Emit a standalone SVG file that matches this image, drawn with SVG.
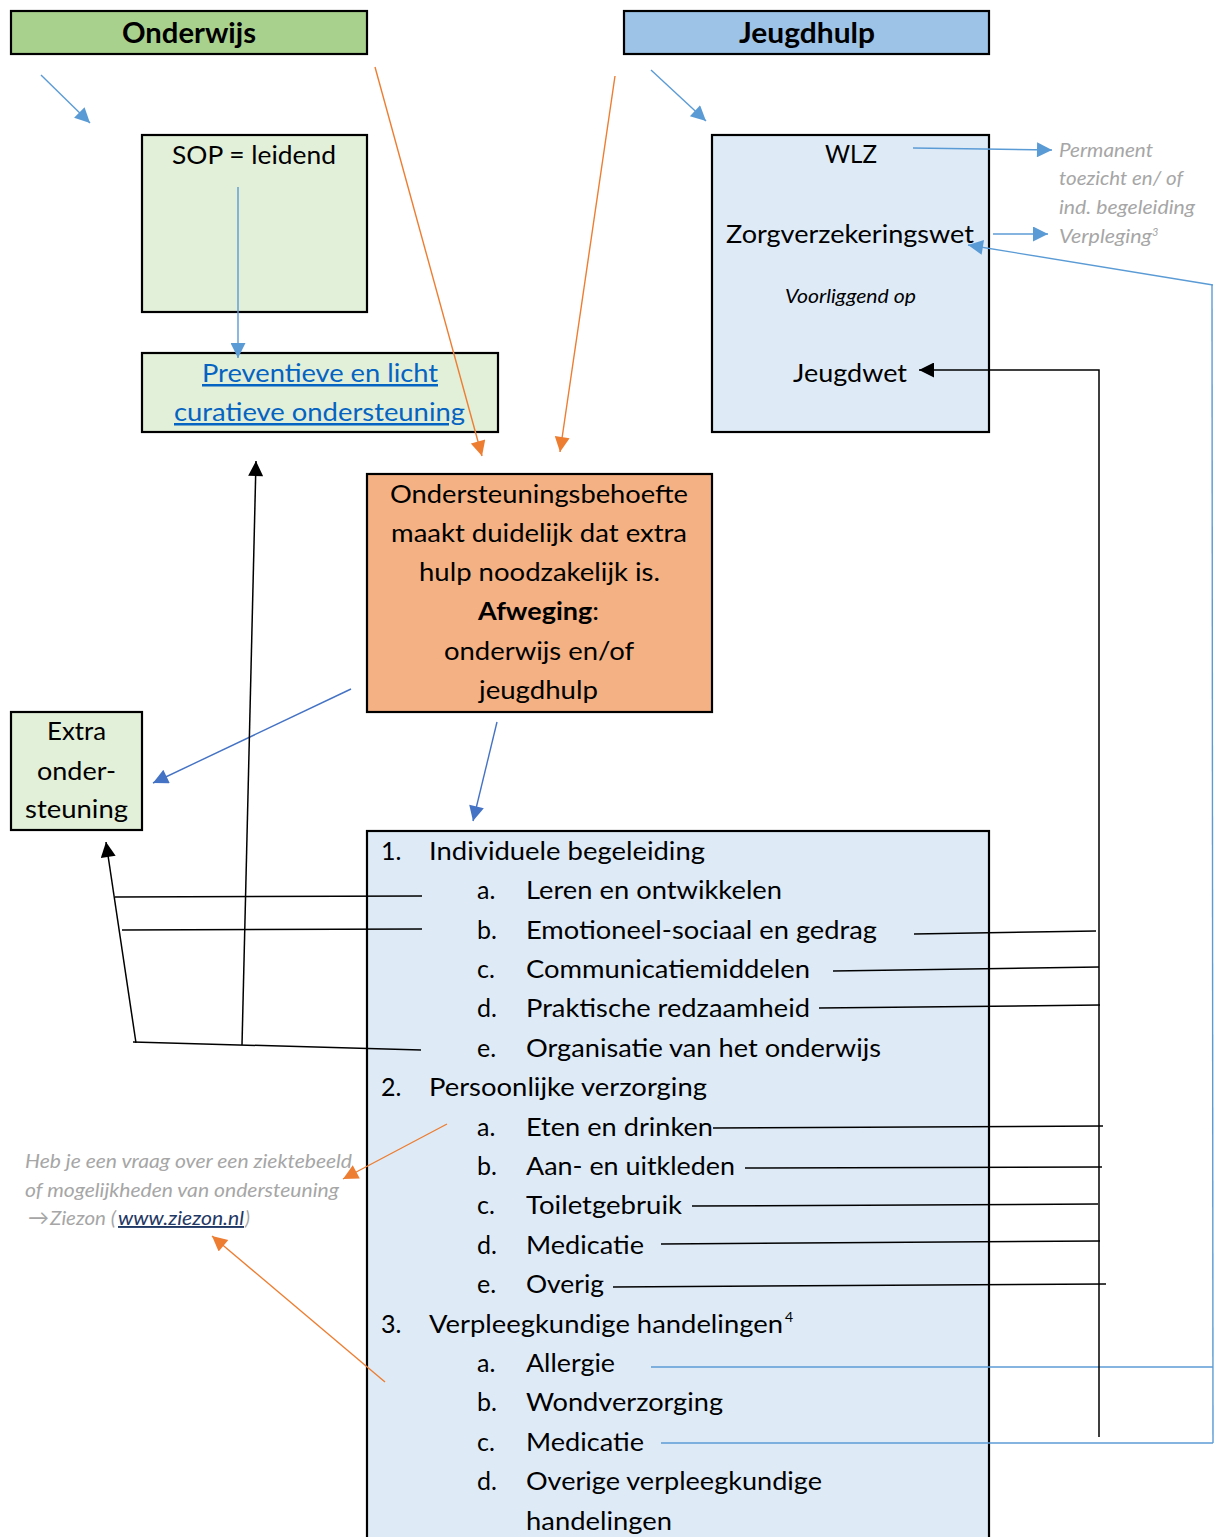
<svg xmlns="http://www.w3.org/2000/svg" width="1215" height="1537" viewBox="0 0 1215 1537">
<style>
.box{stroke:#000;stroke-width:2.2}
.t{font-family:Lato,"Open Sans","Liberation Sans",sans-serif;font-size:25px;fill:#000}
.h{font-family:Lato,"Open Sans","Liberation Sans",sans-serif;font-size:29px;font-weight:bold;fill:#000}
.i{font-family:Lato,"Open Sans","Liberation Sans",sans-serif;font-size:19px;font-style:italic;fill:#000}
.g{font-family:Lato,"Open Sans","Liberation Sans",sans-serif;font-size:19px;font-style:italic;fill:#a6a6a6}
.sup{font-size:13px}
.lnk{fill:#0563c1;text-decoration:underline}
.bl{stroke:#5b9bd5;stroke-width:1.4;fill:none}
.db{stroke:#4472c4;stroke-width:1.4;fill:none}
.or{stroke:#ed7d31;stroke-width:1.4;fill:none}
.k{stroke:#000;stroke-width:1.5;fill:none}
</style>
<defs>
<marker id="ab" viewBox="0 0 10 10" refX="10" refY="5" markerWidth="17" markerHeight="15" markerUnits="userSpaceOnUse" orient="auto"><path d="M0,0L10,5L0,10z" fill="#5b9bd5"/></marker>
<marker id="adb" viewBox="0 0 10 10" refX="10" refY="5" markerWidth="17" markerHeight="15" markerUnits="userSpaceOnUse" orient="auto"><path d="M0,0L10,5L0,10z" fill="#4472c4"/></marker>
<marker id="ao" viewBox="0 0 10 10" refX="10" refY="5" markerWidth="17" markerHeight="15" markerUnits="userSpaceOnUse" orient="auto"><path d="M0,0L10,5L0,10z" fill="#ed7d31"/></marker>
<marker id="ak" viewBox="0 0 10 10" refX="10" refY="5" markerWidth="17" markerHeight="15" markerUnits="userSpaceOnUse" orient="auto"><path d="M0,0L10,5L0,10z" fill="#000"/></marker>
</defs>
<rect width="1215" height="1537" fill="#fff"/>

<g id="onderwijs">
<rect class="box" x="11" y="11" width="356" height="43" fill="#a9d18e"/>
<text class="h" x="122" y="43" textLength="134" lengthAdjust="spacingAndGlyphs">Onderwijs</text>
</g>
<g id="jeugdhulp">
<rect class="box" x="624" y="11" width="365" height="43" fill="#9dc3e6"/>
<text class="h" x="739" y="43" textLength="136" lengthAdjust="spacingAndGlyphs">Jeugdhulp</text>
</g>
<g id="sop">
<rect class="box" x="142" y="135" width="225" height="177" fill="#e2efd9"/>
<text class="t" x="172" y="164" textLength="164" lengthAdjust="spacingAndGlyphs">SOP = leidend</text>
</g>
<g id="preventieve">
<rect class="box" x="142" y="353" width="356" height="79" fill="#e2efd9"/>
<text class="t lnk" x="202" y="382" textLength="236" lengthAdjust="spacingAndGlyphs">Preventieve en licht</text>
<text class="t lnk" x="174" y="421" textLength="291" lengthAdjust="spacingAndGlyphs">curatieve ondersteuning</text>
</g>
<g id="ondersteuningsbehoefte">
<rect class="box" x="367" y="474" width="345" height="238" fill="#f4b183"/>
<text class="t" x="390" y="503" textLength="298" lengthAdjust="spacingAndGlyphs">Ondersteuningsbehoefte</text>
<text class="t" x="391" y="542" textLength="296" lengthAdjust="spacingAndGlyphs">maakt duidelijk dat extra</text>
<text class="t" x="419" y="581" textLength="241" lengthAdjust="spacingAndGlyphs">hulp noodzakelijk is.</text>
<text class="t" x="478" y="620" textLength="121" lengthAdjust="spacingAndGlyphs"><tspan font-weight="bold">Afweging</tspan>:</text>
<text class="t" x="444" y="660" textLength="190" lengthAdjust="spacingAndGlyphs">onderwijs en/of</text>
<text class="t" x="479" y="699" textLength="119" lengthAdjust="spacingAndGlyphs">jeugdhulp</text>
</g>
<g id="wetten">
<rect class="box" x="712" y="135" width="277" height="297" fill="#deebf7"/>
<text class="t" x="825" y="163" textLength="52" lengthAdjust="spacingAndGlyphs">WLZ</text>
<text class="t" x="726" y="243" textLength="248" lengthAdjust="spacingAndGlyphs">Zorgverzekeringswet</text>
<text class="i" x="785" y="303" textLength="131" lengthAdjust="spacingAndGlyphs">Voorliggend op</text>
<text class="t" x="793" y="382" textLength="114" lengthAdjust="spacingAndGlyphs">Jeugdwet</text>
</g>
<g id="wlz-toelichting">
<text class="g" x="1059" y="157" textLength="94" lengthAdjust="spacingAndGlyphs">Permanent</text>
<text class="g" x="1059" y="185" textLength="124" lengthAdjust="spacingAndGlyphs">toezicht en/ of</text>
<text class="g" x="1059" y="214" textLength="136" lengthAdjust="spacingAndGlyphs">ind. begeleiding</text>
<text class="g" x="1059" y="243" textLength="93" lengthAdjust="spacingAndGlyphs">Verpleging</text>
<text class="g" x="1152" y="236" style="font-size:11px">3</text>
</g>
<g id="extra">
<rect class="box" x="11" y="712" width="131" height="118" fill="#e2efd9"/>
<text class="t" x="47" y="740" textLength="59" lengthAdjust="spacingAndGlyphs">Extra</text>
<text class="t" x="37" y="780" textLength="79" lengthAdjust="spacingAndGlyphs">onder-</text>
<text class="t" x="25" y="818" textLength="103" lengthAdjust="spacingAndGlyphs">steuning</text>
</g>
<g id="lijst">
<rect class="box" x="367" y="831" width="622" height="720" fill="#deebf7"/>
<text class="t" x="381" y="860">1.</text>
<text class="t" x="429" y="860" textLength="276" lengthAdjust="spacingAndGlyphs">Individuele begeleiding</text>
<text class="t" x="477" y="899">a.</text>
<text class="t" x="526" y="899" textLength="256" lengthAdjust="spacingAndGlyphs">Leren en ontwikkelen</text>
<text class="t" x="477" y="939">b.</text>
<text class="t" x="526" y="939" textLength="351" lengthAdjust="spacingAndGlyphs">Emotioneel-sociaal en gedrag</text>
<text class="t" x="477" y="978">c.</text>
<text class="t" x="526" y="978" textLength="284" lengthAdjust="spacingAndGlyphs">Communicatiemiddelen</text>
<text class="t" x="477" y="1017">d.</text>
<text class="t" x="526" y="1017" textLength="284" lengthAdjust="spacingAndGlyphs">Praktische redzaamheid</text>
<text class="t" x="477" y="1057">e.</text>
<text class="t" x="526" y="1057" textLength="355" lengthAdjust="spacingAndGlyphs">Organisatie van het onderwijs</text>
<text class="t" x="381" y="1096">2.</text>
<text class="t" x="429" y="1096" textLength="278" lengthAdjust="spacingAndGlyphs">Persoonlijke verzorging</text>
<text class="t" x="477" y="1136">a.</text>
<text class="t" x="526" y="1136" textLength="187" lengthAdjust="spacingAndGlyphs">Eten en drinken</text>
<text class="t" x="477" y="1175">b.</text>
<text class="t" x="526" y="1175" textLength="209" lengthAdjust="spacingAndGlyphs">Aan- en uitkleden</text>
<text class="t" x="477" y="1214">c.</text>
<text class="t" x="526" y="1214" textLength="156" lengthAdjust="spacingAndGlyphs">Toiletgebruik</text>
<text class="t" x="477" y="1254">d.</text>
<text class="t" x="526" y="1254" textLength="118" lengthAdjust="spacingAndGlyphs">Medicatie</text>
<text class="t" x="477" y="1293">e.</text>
<text class="t" x="526" y="1293" textLength="78" lengthAdjust="spacingAndGlyphs">Overig</text>
<text class="t" x="381" y="1333">3.</text>
<text class="t" x="429" y="1333" textLength="354" lengthAdjust="spacingAndGlyphs">Verpleegkundige handelingen</text>
<text class="t" x="785" y="1322" style="font-size:14px">4</text>
<text class="t" x="477" y="1372">a.</text>
<text class="t" x="526" y="1372" textLength="89" lengthAdjust="spacingAndGlyphs">Allergie</text>
<text class="t" x="477" y="1411">b.</text>
<text class="t" x="526" y="1411" textLength="197" lengthAdjust="spacingAndGlyphs">Wondverzorging</text>
<text class="t" x="477" y="1451">c.</text>
<text class="t" x="526" y="1451" textLength="118" lengthAdjust="spacingAndGlyphs">Medicatie</text>
<text class="t" x="477" y="1490">d.</text>
<text class="t" x="526" y="1490" textLength="296" lengthAdjust="spacingAndGlyphs">Overige verpleegkundige</text>
<text class="t" x="526" y="1530" textLength="146" lengthAdjust="spacingAndGlyphs">handelingen</text>
</g>
<g id="ziezon">
<text class="g" x="25" y="1168" textLength="327" lengthAdjust="spacingAndGlyphs">Heb je een vraag over een ziektebeeld</text>
<text class="g" x="25" y="1197" textLength="314" lengthAdjust="spacingAndGlyphs">of mogelijkheden van ondersteuning</text>
<text class="g" x="28" y="1225" style="font-style:normal;font-size:21px">→</text>
<text class="g" x="50" y="1225" textLength="66" lengthAdjust="spacingAndGlyphs">Ziezon (</text>
<text class="g" x="118" y="1225" textLength="126" lengthAdjust="spacingAndGlyphs" style="fill:#1f3864;text-decoration:underline">www.ziezon.nl</text>
<text class="g" x="245" y="1225">)</text>
</g>

<g id="connectors">
<line class="bl" x1="41" y1="75" x2="90" y2="123" marker-end="url(#ab)"/>
<line class="bl" x1="651" y1="70" x2="706" y2="121" marker-end="url(#ab)"/>
<line class="bl" x1="238" y1="187" x2="238" y2="358" marker-end="url(#ab)"/>
<line class="bl" x1="913" y1="148" x2="1052" y2="150" marker-end="url(#ab)"/>
<line class="bl" x1="993" y1="234" x2="1048" y2="234" marker-end="url(#ab)"/>
<line class="bl" x1="1213" y1="285" x2="968" y2="245" marker-end="url(#ab)"/>
<polyline class="bl" points="1212,285 1213,1443"/>
<line class="bl" x1="651" y1="1367" x2="1213" y2="1367"/>
<line class="bl" x1="661" y1="1443" x2="1213" y2="1443"/>

<line class="db" x1="351" y1="689" x2="153" y2="783" marker-end="url(#adb)"/>
<line class="db" x1="497" y1="722" x2="473" y2="821" marker-end="url(#adb)"/>

<line class="or" x1="375" y1="67" x2="482" y2="456" marker-end="url(#ao)"/>
<line class="or" x1="615" y1="76" x2="560" y2="452" marker-end="url(#ao)"/>
<line class="or" x1="447" y1="1124" x2="343" y2="1179" marker-end="url(#ao)"/>
<line class="or" x1="385" y1="1382" x2="212" y2="1236" marker-end="url(#ao)"/>

<polyline class="k" points="1099,1437 1099,370 919,370" marker-end="url(#ak)"/>
<line class="k" x1="914" y1="934" x2="1096" y2="931"/>
<line class="k" x1="833" y1="971" x2="1099" y2="967"/>
<line class="k" x1="819" y1="1008" x2="1100" y2="1005"/>
<line class="k" x1="713" y1="1128" x2="1103" y2="1126"/>
<line class="k" x1="745" y1="1168" x2="1102" y2="1167"/>
<line class="k" x1="692" y1="1206" x2="1098" y2="1204"/>
<line class="k" x1="661" y1="1244" x2="1100" y2="1241"/>
<line class="k" x1="613" y1="1287" x2="1106" y2="1284"/>

<line class="k" x1="115" y1="897" x2="422" y2="896"/>
<line class="k" x1="122" y1="930" x2="422" y2="929"/>
<line class="k" x1="133" y1="1042" x2="421" y2="1050"/>
<line class="k" x1="136" y1="1043" x2="106" y2="842" marker-end="url(#ak)"/>
<line class="k" x1="242" y1="1045" x2="256" y2="461" marker-end="url(#ak)"/>
</g>
</svg>
